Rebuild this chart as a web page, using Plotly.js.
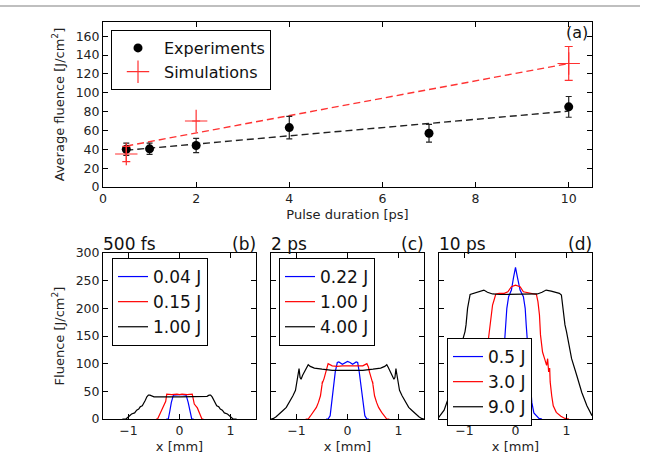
<!DOCTYPE html>
<html>
<head>
<meta charset="utf-8">
<script src="https://cdn.plot.ly/plotly-3.0.1.min.js"></script>
<style>html,body{margin:0;padding:0;background:#fff;} #chart{width:645px;height:456px;}</style>
</head>
<body>
<div id="chart"></div>
<script>
// ---- Panel (a): average fluence vs pulse duration ----
const expX = [0.5, 1, 2, 4, 7, 10];
const expY = [40, 40.5, 44, 63, 57, 85];
const expErr = [6.5, 6, 7.5, 12, 9.5, 11];
const simX = [0.5, 2, 10];
const simY = [35, 70, 131];
const simErr = [8, 0, 18];
const fitExpX = [0.5, 10];
const fitExpY = [39, 80.5];
const fitSimX = [0.5, 10];
const fitSimY = [43.5, 131];

// ---- Panel (b): 500 fs ----
const b_blueX = [-0.26, -0.22, -0.19, -0.16, -0.12, -0.06, 0, 0.06, 0.13, 0.17, 0.2, 0.24, 0.28];
const b_blueY = [0, 0, 14, 30, 43, 44, 44, 44, 43, 30, 14, 0, 0];
const b_redX = [-0.46, -0.43, -0.38, -0.33, -0.29, -0.27, -0.25, -0.15, -0.05, 0, 0.05, 0.15, 0.25, 0.27, 0.29, 0.35, 0.4, 0.44, 0.47];
const b_redY = [0, 0, 10, 20, 27, 32, 45, 44, 45, 44, 45, 44, 45, 32, 27, 20, 10, 0, 0];
const b_blackX = [-1.12, -1.05, -1.0, -0.94, -0.88, -0.84, -0.8, -0.77, -0.73, -0.7, -0.67, -0.64, -0.61, -0.58, -0.54, -0.5, 0, 0.5, 0.54, 0.58, 0.61, 0.64, 0.67, 0.7, 0.73, 0.77, 0.8, 0.84, 0.88, 0.94, 1.0, 1.05, 1.12];
const b_blackY = [0, 0, 4, 9, 11, 16, 18, 22, 24, 28, 34, 40, 43, 43, 41, 40, 40, 40, 41, 43, 43, 40, 34, 28, 24, 22, 18, 16, 11, 9, 4, 0, 0];

// ---- Panel (c): 2 ps ----
const c_blueX = [-0.42, -0.38, -0.34, -0.31, -0.28, -0.24, -0.2, -0.17, -0.1, -0.05, 0, 0.05, 0.1, 0.17, 0.2, 0.23, 0.26, 0.3, 0.34, 0.38, 0.42];
const c_blueY = [0, 0, 6, 30, 61, 85, 102, 103, 99, 102, 104, 102, 99, 103, 102, 85, 61, 30, 6, 0, 0];
const c_redX = [-0.82, -0.77, -0.73, -0.67, -0.61, -0.57, -0.53, -0.51, -0.49, -0.5, -0.46, -0.43, -0.41, -0.38, -0.3, -0.2, -0.1, 0, 0.1, 0.2, 0.3, 0.38, 0.41, 0.43, 0.46, 0.5, 0.49, 0.51, 0.53, 0.57, 0.61, 0.67, 0.73, 0.77, 0.82];
const c_redY = [0, 0, 5, 12, 21, 30, 42, 55, 68, 63, 73, 85, 94, 100, 96, 95, 96, 96, 96, 95, 96, 100, 94, 85, 73, 63, 68, 55, 42, 30, 21, 12, 5, 0, 0];
const c_blackX = [-1.5, -1.45, -1.4, -1.33, -1.27, -1.2, -1.14, -1.07, -1.02, -0.99, -0.96, -0.95, -0.93, -0.91, -0.88, -0.84, -0.8, -0.77, -0.73, -0.65, -0.5, -0.3, 0, 0.3, 0.5, 0.65, 0.73, 0.77, 0.8, 0.84, 0.88, 0.91, 0.93, 0.95, 0.96, 0.99, 1.02, 1.07, 1.14, 1.2, 1.27, 1.33, 1.4, 1.45, 1.5];
const c_blackY = [0, 1, 4, 9, 15, 21, 30, 42, 52, 67, 85, 91, 75, 72, 79, 86, 93, 98, 95, 92, 90, 88, 88, 88, 90, 92, 95, 98, 93, 86, 79, 72, 75, 91, 85, 67, 52, 42, 30, 21, 15, 9, 4, 1, 0];

// ---- Panel (d): 10 ps ----
const d_blueX = [-0.52, -0.47, -0.4, -0.35, -0.31, -0.28, -0.25, -0.21, -0.19, -0.17, -0.135, -0.08, -0.04, 0, 0.04, 0.09, 0.155, 0.19, 0.21, 0.23, 0.26, 0.29, 0.32, 0.36, 0.41, 0.46, 0.52];
const d_blueY = [0, 1, 5, 11, 30, 60, 100, 145, 170, 200, 221, 233, 255, 274, 255, 233, 221, 200, 170, 145, 100, 60, 30, 11, 5, 1, 0];
const d_redX = [-1.08, -0.97, -0.89, -0.8, -0.74, -0.71, -0.68, -0.65, -0.6, -0.56, -0.53, -0.5, -0.45, -0.42, -0.385, -0.32, -0.22, -0.15, -0.08, 0, 0.09, 0.155, 0.29, 0.41, 0.44, 0.47, 0.49, 0.53, 0.57, 0.61, 0.63, 0.65, 0.67, 0.68, 0.71, 0.74, 0.8, 0.89, 0.97, 1.05];
const d_redY = [0, 1, 5, 12, 24, 42, 67, 85, 100, 120, 145, 170, 206, 215, 226, 227, 227, 230, 239, 242, 239, 230, 227, 225, 212, 188, 152, 121, 109, 97, 109, 85, 92, 67, 42, 24, 12, 5, 1, 0];
const d_blackX = [-1.53, -1.45, -1.4, -1.3, -1.2, -1.1, -1.03, -0.99, -0.97, -0.94, -0.89, -0.8, -0.7, -0.62, -0.55, -0.45, -0.3, 0, 0.3, 0.43, 0.52, 0.6, 0.7, 0.8, 0.86, 0.9, 0.93, 0.97, 1.0, 1.03, 1.1, 1.2, 1.3, 1.4, 1.5];
const d_blackY = [0, 9, 16, 42, 76, 109, 145, 158, 170, 200, 225, 228, 231, 233, 229, 226, 225, 225, 225, 226, 229, 233, 231, 228, 227, 224, 200, 170, 158, 145, 109, 79, 48, 24, 6];

const labelsB = ['0.04 J', '0.15 J', '1.00 J'];
const labelsC = ['0.22 J', '1.00 J', '4.00 J'];
const labelsD = ['0.5 J', '3.0 J', '9.0 J'];
const panelTitles = ['500 fs', '2 ps', '10 ps'];
const panelTags = ['(b)', '(c)', '(d)'];

const FONT = 'DejaVu Sans, Verdana, sans-serif';
const BLUE = '#0000ff', RED = '#ff0000', BLACK = '#000000';

const traces = [];
traces.push({x: fitSimX, y: fitSimY, mode: 'lines', line: {color: '#ff3333', width: 1.4, dash: '7px,4px'}, showlegend: false, hoverinfo: 'skip', xaxis: 'x', yaxis: 'y'});
traces.push({x: fitExpX, y: fitExpY, mode: 'lines', line: {color: '#222222', width: 1.4, dash: '7px,4px'}, showlegend: false, hoverinfo: 'skip', xaxis: 'x', yaxis: 'y'});
traces.push({x: expX, y: expY, name: 'Experiments', mode: 'markers', marker: {color: BLACK, size: 9, symbol: 'circle'},
  error_y: {type: 'data', array: expErr, visible: true, color: '#222', thickness: 1.2, width: 3}, xaxis: 'x', yaxis: 'y', legend: 'legend'});
traces.push({x: simX, y: simY, name: 'Simulations', mode: 'markers', marker: {color: '#ff3030', size: 16, symbol: 'cross-thin', line: {color: '#ff3030', width: 1.2}},
  error_y: {type: 'data', array: simErr, visible: true, color: '#ff3030', thickness: 1.2, width: 4}, xaxis: 'x', yaxis: 'y', legend: 'legend'});

function addPanel(xs, ys, labels, ax, leg) {
  const cols = [BLUE, RED, BLACK];
  for (let i = 0; i < 3; i++) {
    traces.push({x: xs[i], y: ys[i], name: labels[i], mode: 'lines', line: {color: cols[i], width: 1.2},
      xaxis: 'x' + ax, yaxis: 'y' + ax, legend: leg});
  }
}
addPanel([b_blueX, b_redX, b_blackX], [b_blueY, b_redY, b_blackY], labelsB, 2, 'legend2');
addPanel([c_blueX, c_redX, c_blackX], [c_blueY, c_redY, c_blackY], labelsC, 3, 'legend3');
addPanel([d_blueX, d_redX, d_blackX], [d_blueY, d_redY, d_blackY], labelsD, 4, 'legend4');

const W = 645, H = 456;
const px = v => v / W;
const py = v => (H - v) / H;

const axBase = {showline: true, linecolor: '#000', linewidth: 1, mirror: 'allticks', ticks: 'inside', ticklen: 5,
  tickwidth: 1, tickcolor: '#000', showgrid: false, zeroline: false, tickfont: {family: FONT, size: 12.5, color: '#222'}};
const titleFont = {family: FONT, size: 13, color: '#222'};

const panelDom = [[103, 256], [271, 424], [439, 592]];
const bottomY = [py(419), py(253)];

function legendAt(x, y, size, iw) {
  return {x: px(x), y: py(y), xanchor: 'left', yanchor: 'top', bgcolor: '#fff', bordercolor: '#000', borderwidth: 1,
    itemwidth: iw, font: {family: FONT, size: size, color: '#111'}};
}

const layout = {
  width: W, height: H,
  margin: {l: 0, r: 0, t: 0, b: 0},
  paper_bgcolor: '#fff', plot_bgcolor: '#fff',
  font: {family: FONT, color: '#222'},
  showlegend: true,
  xaxis: Object.assign({}, axBase, {domain: [px(103), px(592)], range: [0, 10.5], tickvals: [0, 2, 4, 6, 8, 10], anchor: 'y',
    title: {text: 'Pulse duration [ps]', font: titleFont, standoff: 4}}),
  yaxis: Object.assign({}, axBase, {domain: [py(187), py(22)], range: [0, 175], tickvals: [0, 20, 40, 60, 80, 100, 120, 140, 160], anchor: 'x',
    title: {text: 'Average fluence [J/cm<sup>2</sup>]', font: titleFont, standoff: 8}}),
  legend: legendAt(111, 30, 16, 42),
  legend2: legendAt(112, 258, 17, 30),
  legend3: legendAt(279, 258, 17, 30),
  legend4: legendAt(447, 338, 17, 30),
  shapes: [{type: 'line', xref: 'paper', yref: 'paper', x0: 0, x1: px(640), y0: py(6), y1: py(6), line: {color: '#aaaaaa', width: 1.5}}],
  annotations: [
    {text: '(a)', xref: 'paper', yref: 'paper', x: px(590), y: py(33), xanchor: 'right', yanchor: 'middle', showarrow: false,
      font: {family: FONT, size: 16, color: '#111'}}
  ]
};

for (let i = 0; i < 3; i++) {
  const n = i + 2;
  const d = panelDom[i];
  layout['xaxis' + n] = Object.assign({}, axBase, {domain: [px(d[0]), px(d[1])], range: [-1.5, 1.5], tickvals: [-1, 0, 1], anchor: 'y' + n,
    title: {text: 'x [mm]', font: titleFont, standoff: 4}});
  const ya = Object.assign({}, axBase, {domain: bottomY, range: [0, 300], tickvals: [0, 50, 100, 150, 200, 250, 300], anchor: 'x' + n});
  if (i === 0) {
    ya.title = {text: 'Fluence [J/cm<sup>2</sup>]', font: titleFont, standoff: 8};
  } else {
    ya.showticklabels = false;
  }
  layout['yaxis' + n] = ya;
  layout.annotations.push({text: panelTitles[i], xref: 'paper', yref: 'paper', x: px(d[0] - 2), y: py(244), xanchor: 'left', yanchor: 'middle',
    showarrow: false, font: {family: FONT, size: 17, color: '#111'}});
  layout.annotations.push({text: panelTags[i], xref: 'paper', yref: 'paper', x: px(d[1] + 2), y: py(244), xanchor: 'right', yanchor: 'middle',
    showarrow: false, font: {family: FONT, size: 17, color: '#111'}});
}

Plotly.newPlot('chart', traces, layout, {displayModeBar: false, staticPlot: true});
</script>
</body>
</html>
